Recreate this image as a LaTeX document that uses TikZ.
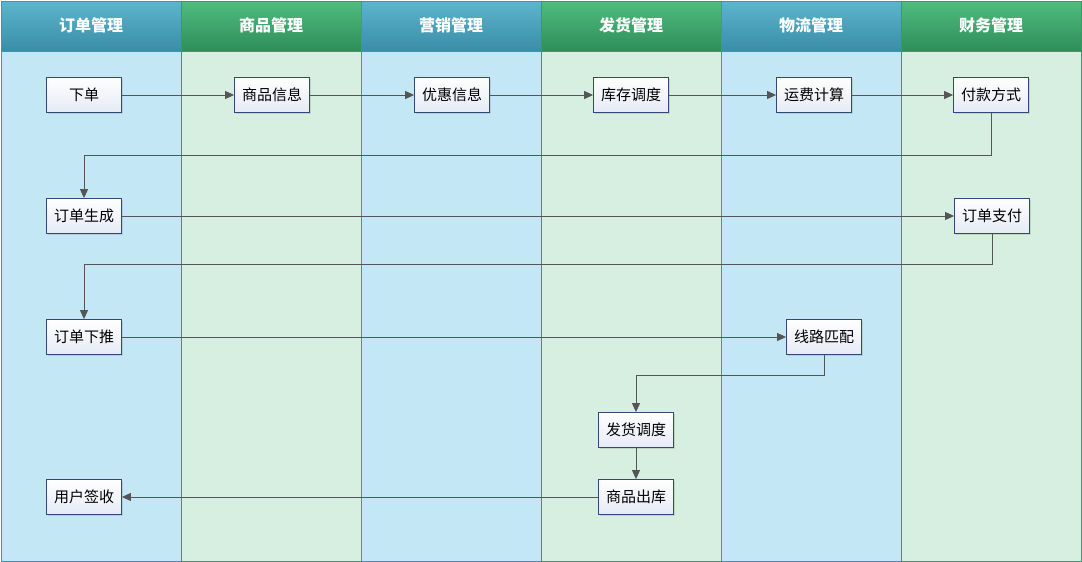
\documentclass[tikz,border=0pt]{standalone}
\usepackage{fontspec}
\newfontfamily\cjk{Noto Sans CJK SC}
\usetikzlibrary{arrows.meta,shadows}
\definecolor{blueBody}{HTML}{C4E7F5}
\definecolor{greenBody}{HTML}{D7EFE1}
\definecolor{blueTop}{HTML}{5DB5CD}
\definecolor{blueBot}{HTML}{3A8DA7}
\definecolor{greenTop}{HTML}{4FBD7E}
\definecolor{greenBot}{HTML}{2E8E59}
\definecolor{blueEdge}{HTML}{3E94B2}
\definecolor{greenEdge}{HTML}{3A9673}
\definecolor{boxline}{HTML}{2F4A78}
\definecolor{boxbot}{HTML}{E6EAF5}
\definecolor{linegray}{HTML}{555555}
\begin{document}
\begin{tikzpicture}[x=1pt,y=-1pt,
  task/.style={draw=boxline, line width=0.8pt, top color=white, bottom color=boxbot,
    minimum width=75pt, minimum height=35pt, inner sep=0pt,
    font=\cjk\fontsize{15}{15}\selectfont,
    drop shadow={shadow xshift=1.5pt, shadow yshift=-1.5pt, opacity=0.25, fill=gray}},
  flow/.style={draw=linegray, line width=0.9pt, -{Triangle[length=9pt,width=8pt]}},
  lanehead/.style={font=\cjk\bfseries\fontsize{16}{16}\selectfont, text=white}]
\useasboundingbox (0,0) rectangle (1082,562);

% swimlanes
\foreach \i/\name/\col in {0/订单管理/blue, 1/商品管理/green, 2/营销管理/blue,
                           3/发货管理/green, 4/物流管理/blue, 5/财务管理/green} {
  \pgfmathsetmacro\x{1+180*\i}
  \fill[\col Body] (\x,51) rectangle (\x+180,561);
  \shade[top color=\col Top, bottom color=\col Bot] (\x,1) rectangle (\x+180,51);
  \draw[\col Edge, line width=0.8pt] (\x,1) rectangle (\x+180,561);
  \draw[\col Edge, line width=0.8pt] (\x,51) -- (\x+180,51);
  \node[lanehead] (head\i) at (\x+90,25) {\name};
}

% tasks
\node[task] (order) at (84,95) {下单};
\node[task] (goods) at (272,95) {商品信息};
\node[task] (promo) at (452,95) {优惠信息};
\node[task] (stock) at (631,95) {库存调度};
\node[task] (freight) at (814,95) {运费计算};
\node[task] (paymode) at (991,95) {付款方式};
\node[task] (create) at (84,216) {订单生成};
\node[task] (pay) at (992,216) {订单支付};
\node[task] (push) at (84,337) {订单下推};
\node[task] (route) at (824,337) {线路匹配};
\node[task] (dispatch) at (636,430) {发货调度};
\node[task] (outbound) at (636,497) {商品出库};
\node[task] (receive) at (84,497) {用户签收};

% flow
\draw[flow] (order) -- (goods);
\draw[flow] (goods) -- (promo);
\draw[flow] (promo) -- (stock);
\draw[flow] (stock) -- (freight);
\draw[flow] (freight) -- (paymode);
\draw[flow] (paymode.south) -- ++(0,43) -| (create.north);
\draw[flow] (create) -- (pay);
\draw[flow] (pay.south) -- ++(0,31) -| (push.north);
\draw[flow] (push) -- (route);
\draw[flow] (route.south) -- ++(0,21) -| (dispatch.north);
\draw[flow] (dispatch) -- (outbound);
\draw[flow] (outbound) -- (receive);
\end{tikzpicture}
\end{document}
